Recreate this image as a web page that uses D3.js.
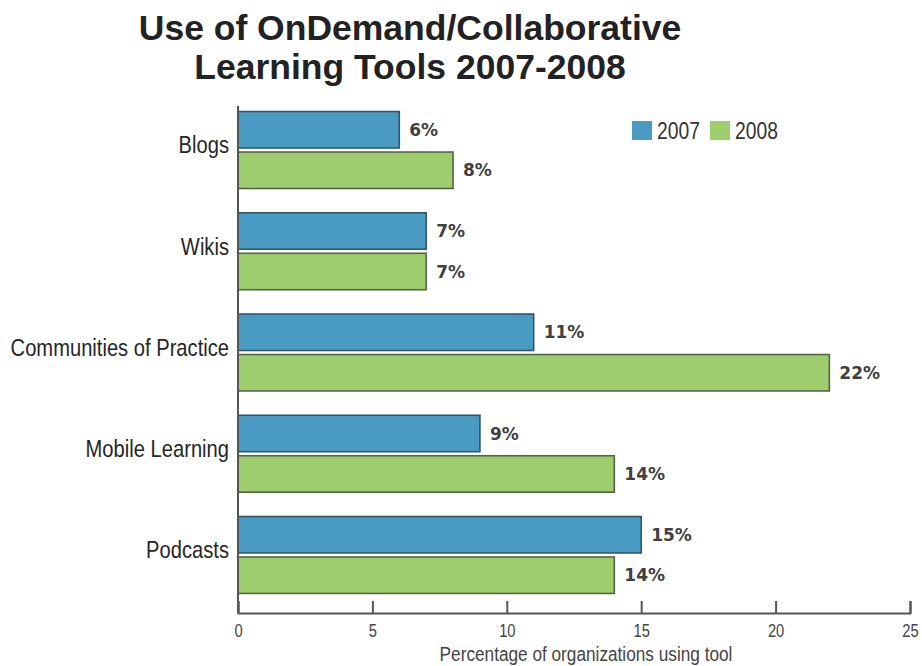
<!DOCTYPE html>
<html>
<head>
<meta charset="utf-8">
<script src="https://cdn.jsdelivr.net/npm/d3@7"></script>
<style>
  html, body { margin: 0; padding: 0; background: #fff; }
  svg { display: block; }
  .narrow { font-family: "Liberation Sans", Arial, sans-serif; }
</style>
</head>
<body>
<svg id="chart" width="922" height="666"></svg>
<script>
// Survey data: share of organizations using each tool
const categories = ["Blogs", "Wikis", "Communities of Practice", "Mobile Learning", "Podcasts"];
const years = ["2007", "2008"];
const values2007 = [6, 7, 11, 9, 15];
const values2008 = [8, 7, 22, 14, 14];
const xTicks = [0, 5, 10, 15, 20, 25];
const titleLines = ["Use of OnDemand/Collaborative", "Learning Tools 2007-2008"];
const xTitle = "Percentage of organizations using tool";

const fills = { "2007": "#4a9bc3", "2008": "#9dcd6d" };
const strokes = { "2007": "#34566a", "2008": "#566444" };

// Horizontal squeeze used to get a condensed face from a regular one
const SQ = 0.84;

const svg = d3.select("#chart");
svg.append("rect").attr("width", 922).attr("height", 666).attr("fill", "#fff");

const x = d3.scaleLinear().domain([0, 25]).range([238, 910]);
const y = d3.scaleBand().domain(categories).range([99.4, 605.6])
  .paddingInner(0.24).paddingOuter(0.12);
const ySub = d3.scaleBand().domain(years).range([0, y.bandwidth()]).paddingInner(0.1);

const rows = categories.map((c, i) => ({ cat: c, vals: [
  { year: "2007", v: values2007[i] },
  { year: "2008", v: values2008[i] }
]}));

// Title
svg.append("g").selectAll("text").data(titleLines).join("text")
  .attr("x", 410)
  .attr("y", (d, i) => 40 + i * 39)
  .attr("text-anchor", "middle")
  .attr("font-family", "'Liberation Sans', Arial, sans-serif")
  .attr("font-weight", "bold")
  .attr("font-size", 35.5)
  .attr("fill", "#222")
  .text(d => d);

// Bars
const groups = svg.append("g").selectAll("g").data(rows).join("g")
  .attr("transform", d => `translate(0,${y(d.cat)})`);

groups.selectAll("rect").data(d => d.vals).join("rect")
  .attr("x", x(0))
  .attr("y", d => ySub(d.year))
  .attr("width", d => x(d.v) - x(0))
  .attr("height", ySub.bandwidth())
  .attr("fill", d => fills[d.year])
  .attr("stroke", d => strokes[d.year])
  .attr("stroke-width", 1.6);

groups.selectAll("text.val").data(d => d.vals).join("text")
  .attr("class", "val")
  .attr("x", d => x(d.v) + 10)
  .attr("y", d => ySub(d.year) + ySub.bandwidth() / 2)
  .attr("dy", "0.36em")
  .attr("font-family", "'DejaVu Sans', Verdana, sans-serif")
  .attr("font-weight", "bold")
  .attr("font-size", 17)
  .attr("fill", "#404040")
  .text(d => d.v + "%");

// Category labels
svg.append("g").selectAll("text").data(categories).join("text")
  .attr("class", "narrow")
  .attr("transform", `scale(${SQ},1)`)
  .attr("x", 229 / SQ)
  .attr("y", d => y(d) + y.bandwidth() / 2 - 5)
  .attr("dy", "0.35em")
  .attr("text-anchor", "end")
  .attr("font-size", 24)
  .attr("fill", "#262626")
  .text(d => d);

// Vertical baseline
svg.append("line")
  .attr("x1", x(0)).attr("x2", x(0))
  .attr("y1", 106).attr("y2", 613)
  .attr("stroke", "#555").attr("stroke-width", 2);

// X axis with ticks pointing upward
const axis = svg.append("g")
  .attr("transform", "translate(0,613)")
  .call(d3.axisTop(x).tickValues(xTicks).tickSize(12).tickFormat(d3.format("d")));
axis.attr("font-family", null).attr("font-size", null);
axis.select(".domain").attr("stroke", "#555").attr("stroke-width", 2);
axis.selectAll(".tick line").attr("stroke", "#555").attr("stroke-width", 2);
axis.selectAll(".tick text")
  .attr("class", "narrow")
  .attr("transform", `scale(${SQ},1)`)
  .attr("y", 18)
  .attr("dy", "0.35em")
  .attr("font-size", 17.5)
  .attr("fill", "#444");

svg.append("text")
  .attr("class", "narrow")
  .attr("transform", `scale(${SQ},1)`)
  .attr("x", 586 / SQ)
  .attr("y", 661)
  .attr("text-anchor", "middle")
  .attr("font-size", 20.5)
  .attr("fill", "#444")
  .text(xTitle);

// Legend
const legend = svg.append("g").attr("transform", "translate(632,121)");
const items = legend.selectAll("g").data(years).join("g")
  .attr("transform", (d, i) => `translate(${i * 78},0)`);
items.append("rect")
  .attr("width", 20).attr("height", 19)
  .attr("fill", d => fills[d]);
items.append("text")
  .attr("class", "narrow")
  .attr("transform", `scale(${SQ},1)`)
  .attr("x", 25 / SQ)
  .attr("y", 10)
  .attr("dy", "0.36em")
  .attr("font-size", 23)
  .attr("fill", "#333")
  .text(d => d);
</script>
</body>
</html>
